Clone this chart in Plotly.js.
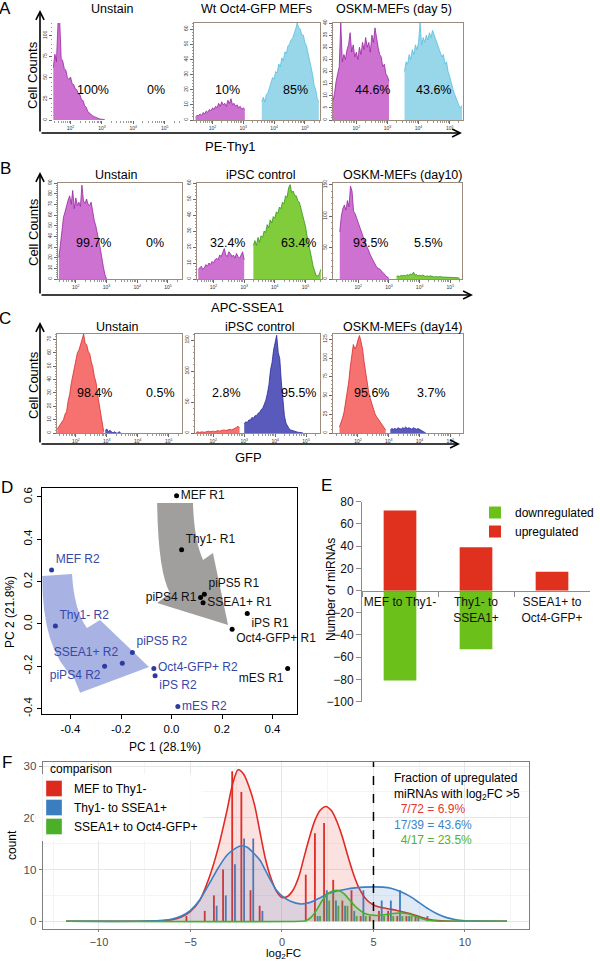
<!DOCTYPE html>
<html><head><meta charset="utf-8">
<script src="https://cdn.plot.ly/plotly-3.0.1.min.js"></script>
<style>html,body{margin:0;padding:0;background:#fff;}#chart{width:600px;height:961px;}</style>
</head><body><div id="chart"></div>
<script>
const W = 600, H = 961;
const FONT = 'Liberation Sans, Arial, Helvetica, sans-serif';

// ================= DATA =================
// ---- Panels A-C : flow cytometry histograms (x in log10 fluorescence, bin width 0.05) ----
const flowXLabels = ['PE-Thy1', 'APC-SSEA1', 'GFP'];
const flowTitles = [
  ['Unstain', 'Wt Oct4-GFP MEFs', 'OSKM-MEFs (day 5)'],
  ['Unstain', 'iPSC control', 'OSKM-MEFs (day10)'],
  ['Unstain', 'iPSC control', 'OSKM-MEFs (day14)']
];
const flowPct = [
  ['100%', '0%', '10%', '85%', '44.6%', '43.6%'],
  ['99.7%', '0%', '32.4%', '63.4%', '93.5%', '5.5%'],
  ['98.4%', '0.5%', '2.8%', '95.5%', '95.6%', '3.7%']
];
const binWidth = 0.05;

const A1_neg_start = 1.45;
const A1_neg = [62,78,69,116,121,73,70,61,59,50,48,51,43,42,37,36,31,30,24,23,17,15,10,8,6,5,4,3,2,2,1,1,0.5,0];
const A2_neg_start = 1.45;
const A2_neg = [2,3,3,4,3,5,4,6,5,7,6,8,7,9,8,11,9,12,10,11,9,13,11,14,10,11,9,10,8,9,7,8,7];
const A2_pos_start = 3.60;
const A2_pos = [12,15,12,17,18,22,24,28,27,32,31,37,35,41,39,45,44,49,50,53,54,58,60,64,61,60,56,56,51,49,44,41,34,30,23,20,14,12];
const A3_neg_start = 1.25;
const A3_neg = [8,11,16,19,22,40,24,27,25,29,31,36,28,31,26,28,25,30,27,32,29,34,30,32,28,35,32,38,33,30,27,26,22,23,19,18,16];
const A3_pos_start = 3.55;
const A3_pos = [20,24,23,27,25,29,27,31,29,32,40,31,34,32,35,33,36,34,37,35,33,31,29,28,26,27,23,24,20,18,15,13,11,9,8,6,5,6];

const B1_neg_start = 1.45;
const B1_neg = [20,35,50,58,63,70,74,78,70,83,66,76,69,72,68,88,73,71,75,70,69,72,63,55,50,44,36,28,18,11,4,0];
const B2_neg_start = 1.50;
const B2_neg = [6,7,8,6,7,9,8,10,9,11,10,12,13,12,15,14,17,19,15,14,17,16,14,15,13,16,14,13,15,17,12];
const B2_pos_start = 3.30;
const B2_pos = [21,24,21,26,23,27,26,30,29,34,32,37,35,39,38,42,41,45,44,48,47,52,51,57,59,54,55,52,52,49,48,44,42,36,33,27,23,17,13,8,4,2,2,3,6];
const B3_neg_start = 1.40;
const B3_neg = [75,100,112,118,110,125,115,148,140,108,104,97,88,82,74,67,62,55,50,43,38,33,28,22,19,17,16,13,11,8,5,3,1];
const B3_pos_start = 3.25;
const B3_pos = [4,5,4,6,5,6,5,7,6,8,7,11,6,7,5,6,5,6,5,4,5,4,5,4,4,3,4,3,4,3,3,3,3,2,3,2,2,2,2,2,2,1];

const C1_neg_start = 1.40;
const C1_neg = [3,5,6,9,10,14,16,24,29,37,43,50,54,60,62,66,69,74,67,66,61,59,53,49,42,38,29,22,13,6,1];
const C1_pos_start = 2.95;
const C1_pos = [2,3,1,2,1,0,1,0,0,1,0];
const C2_neg_start = 1.45;
const C2_neg = [1,2,1,2,2,1,2,2,3,2,3,3,2,3,4,3,4,4,5,4,5,5,6,5,6,7,9,11,8];
const C2_pos_start = 3.00;
const C2_pos = [15,18,17,21,21,25,24,28,28,32,33,38,40,47,53,64,78,102,114,134,148,158,130,120,83,48,28,16,10,7,5,4,3,2,2,1,1,1,0];
const C3_neg_start = 1.40;
const C3_neg = [8,13,20,28,40,55,68,88,103,118,112,116,124,130,122,112,95,80,64,54,46,38,30,26,22,19,16,14,11,8,4];
const C3_pos_start = 3.05;
const C3_pos = [4,6,5,6,5,7,6,5,7,6,8,6,7,6,5,7,6,5,6,5,4,3,2,0];

// ---- Panel D : PCA ----
const pcaR1_labels = ['MEF R1','Thy1- R1','piPS4 R1','piPS5 R1','SSEA1+ R1','iPS R1','Oct4-GFP+ R1','mES R1'];
const pcaR1_pc1 = [0.02, 0.04, 0.115, 0.13, 0.125, 0.30, 0.24, 0.46];
const pcaR1_pc2 = [0.605, 0.35, 0.125, 0.14, 0.10, 0.05, -0.025, -0.21];
const pcaR2_labels = ['MEF R2','Thy1- R2','piPS5 R2','SSEA1+ R2','piPS4 R2','Oct4-GFP+ R2','iPS R2','mES R2'];
const pcaR2_pc1 = [-0.475, -0.46, -0.155, -0.195, -0.265, -0.07, -0.065, 0.025];
const pcaR2_pc2 = [0.255, -0.01, -0.135, -0.185, -0.2, -0.21, -0.245, -0.39];

// ---- Panel E : number of miRNAs ----
const eCategories = ['MEF to Thy1-', 'Thy1- to<br>SSEA1+', 'SSEA1+ to<br>Oct4-GFP+'];
const eUp = [72, 39, 17];
const eDown = [-81, -53, 0];

// ---- Panel F : log2FC distributions ----
const fNames = ['MEF to Thy1-', 'Thy1- to SSEA1+', 'SSEA1+ to Oct4-GFP+'];
const fDensX_red = [-11.8,-8,-7,-6.5,-6,-5.5,-5,-4.5,-4,-3.5,-3,-2.7,-2.4,-2.1,-1.8,-1.5,-1.2,-0.9,-0.6,-0.3,0,0.3,0.6,0.9,1.2,1.5,1.8,2.1,2.4,2.7,3,3.3,3.6,3.9,4.2,4.5,4.8,5.1,5.5,6,6.5,7,7.5,8,8.5,9,10,12.3];
const fDensY_red = [0,0,0.02,0.1,0.3,0.8,1.9,4,8.2,14,21.5,26.5,29.3,28.5,26,22.5,17.2,12,8.3,5.8,4.6,4.8,6,8.4,12.3,16.2,19.5,21.5,22.2,21.4,19.3,16.3,12.6,9.2,6.5,4.7,3.6,3.0,2.6,2.3,1.9,1.5,0.9,0.4,0.15,0.05,0,0];
const fDensX_blue = [-11.8,-8,-7,-6.5,-6,-5.5,-5,-4.5,-4,-3.5,-3,-2.5,-2.2,-1.9,-1.5,-1.2,-0.9,-0.6,-0.3,0,0.5,1,1.5,2,2.5,3,3.5,4,4.5,5,5.5,6,6.5,7,7.5,8,8.5,9,9.5,10,10.5,12.3];
const fDensY_blue = [0,0,0.1,0.2,0.45,1.0,2.1,4.1,7.1,10.2,12.8,14.2,14.6,14.3,13,11.8,9.8,7.8,6,4.9,3.8,3.35,3.6,4.4,5.3,5.85,6.2,6.45,6.6,6.65,6.6,6.35,5.7,4.8,3.6,2.4,1.4,0.7,0.3,0.1,0.02,0];
const fDensX_green = [-11.8,1.0,1.3,1.6,1.9,2.2,2.5,2.8,3.1,3.4,3.7,4.0,4.3,4.6,5.0,5.4,5.8,6.2,6.5,6.8,7.1,7.4,7.7,8.0,8.4,9,12.3];
const fDensY_green = [0,0,0.1,0.8,2.2,4.0,5.3,5.9,5.95,5.3,4.1,2.9,2.0,1.4,1.15,1.15,1.35,1.55,1.6,1.5,1.2,0.8,0.45,0.2,0.05,0,0];
const fBinX_red = [-5.22,-4.22,-3.72,-3.22,-2.72,-2.22,-1.72,-1.22,1.3,1.8,2.3,2.8,3.3,3.8,4.3,4.8,5.3,5.8,6.3,6.8,7.3];
const fBinY_red = [1,2,5,10,29,25,6,3,9,17,19,8,4,6,1,1,2,2,1,1,1];
const fBinX_blue = [-3.57,-3.07,-2.57,-2.07,-1.57,-1.07,1.95,2.45,2.95,3.45,3.95,4.45,5.45,5.95,6.45,6.95,7.45,7.95];
const fBinY_blue = [3,5,11,16,16,2,1,6,4,3,2,6,4,4,6,1,1,1];
const fBinX_green = [2.08,2.58,3.08,3.58,4.08,4.58,5.58,6.08,6.58,7.08];
const fBinY_green = [1,4,3,3,1,1,1,1,1,1];
const fFracTitle = 'Fraction of upregulated<br>miRNAs with log<sub>2</sub>FC &gt;5';
const fFracText = ['7/72 = 6.9%', '17/39 = 43.6%', '4/17 = 23.5%'];

// ================= STYLE / GEOMETRY =================
const px = x => x / W, py = y => 1 - y / H;
const ref = n => (n === 1 ? '' : String(n));
const COL = {
  mag:   {fill: 'rgb(206,114,210)', line: 'rgb(150,38,160)'},
  cyan:  {fill: 'rgb(152,214,234)', line: 'rgb(84,192,222)'},
  green: {fill: 'rgb(128,204,58)',  line: 'rgb(50,150,30)'},
  red:   {fill: 'rgb(246,114,112)', line: 'rgb(214,44,40)'},
  blue:  {fill: 'rgb(90,90,188)',   line: 'rgb(40,40,160)'}
};
const flowPops = [
  [[[A1_neg_start, A1_neg, 'mag']], [[A2_neg_start, A2_neg, 'mag'], [A2_pos_start, A2_pos, 'cyan']], [[A3_neg_start, A3_neg, 'mag'], [A3_pos_start, A3_pos, 'cyan']]],
  [[[B1_neg_start, B1_neg, 'mag']], [[B2_neg_start, B2_neg, 'mag'], [B2_pos_start, B2_pos, 'green']], [[B3_neg_start, B3_neg, 'mag'], [B3_pos_start, B3_pos, 'green']]],
  [[[C1_neg_start, C1_neg, 'red'], [C1_pos_start, C1_pos, 'blue']], [[C2_neg_start, C2_neg, 'red'], [C2_pos_start, C2_pos, 'blue']], [[C3_neg_start, C3_neg, 'red'], [C3_pos_start, C3_pos, 'blue']]]
];
const flowBoxes = [ // left, right, top, bottom (px)
  [[53,180,23,120],[194,320,23,120],[333,463,23,120]],
  [[58,182,183,279],[197,322,183,279],[333,462,183,279]],
  [[57,182,334,433],[195,320,334,433],[333,463,334,433]]
];
const flowXRange = [[[1.44,5.49],[1.40,5.49],[1.25,5.43]],[[1.42,5.46],[1.46,5.54],[1.18,5.38]],[[1.39,5.43],[1.41,5.45],[1.19,5.41]]];
const flowYMax = [[115,64,40],[90,60,153],[74,160,132]];
const flowYDtick = [[25,10,5],[10,10,50],[10,50,25]];
const flowTitleX = [[112,256,394],[116,260,402],[117,259,402]];
const flowTitleY = [9,175,327];
const flowPctX = [[93,156,227,295,372,433],[93,155,227,298,370,428],[94,160,226,298,371,431]];
const flowPctY = [90,243,393];
const flowArrowX = 40, flowArrowTop = [10,172,322], flowArrowY = [133,295,444], flowArrowEnd = [462,473,460];
const flowCellY = [75,232,385];
const flowXLabelPos = [[230,147],[247,307],[248,457]];
const letterPos = [['A',5,9],['B',5,168],['C',5,318],['D',7,487],['E',326,485],['F',7,762]];

const traces = [], annotations = [], shapes = [];
const layout = {
  width: W, height: H, margin: {l:0, r:0, t:0, b:0},
  paper_bgcolor: '#fff', plot_bgcolor: '#fff',
  font: {family: FONT, color: '#000', size: 12},
  barmode: 'overlay', showlegend: true, hovermode: false,
  annotations, shapes,
  legend: {x: px(475), y: py(498), xanchor: 'left', yanchor: 'top', bgcolor: 'rgba(0,0,0,0)',
           font: {size: 12}, itemwidth: 30, tracegroupgap: 0},
  legend2: {x: px(34), y: py(774), xanchor: 'left', yanchor: 'top', bgcolor: 'rgba(255,255,255,0.9)',
            font: {size: 12}, itemwidth: 30, tracegroupgap: 0}
};
function setAx(n, xa, ya) { layout['xaxis' + ref(n)] = xa; layout['yaxis' + ref(n)] = ya; }
function ann(text, x, y, opts) {
  annotations.push(Object.assign({text, x: px(x), y: py(y), xref: 'paper', yref: 'paper', xanchor: 'center', yanchor: 'middle',
    showarrow: false, font: {size: 12}}, opts || {}));
}
function arrowAnn(x, y, ax, ay) {
  annotations.push({text: '', x: px(x), y: py(y), xref: 'paper', yref: 'paper', showarrow: true, ax, ay,
    arrowhead: 5, arrowsize: 1, arrowwidth: 1.6, arrowcolor: '#000', standoff: 0, startstandoff: 0});
}

// ---------- A-C ----------
const minorLog = [];
for (let d = 1; d <= 5; d++) for (let k = 2; k <= 9; k++) minorLog.push(d + Math.log10(k));
for (let r = 0; r < 3; r++) {
  for (let c = 0; c < 3; c++) {
    const n = r * 3 + c + 1, b = flowBoxes[r][c];
    const frame = !(r === 0 && c === 0);
    setAx(n, {
      domain: [px(b[0]), px(b[1])], anchor: 'y' + ref(n), range: flowXRange[r][c],
      tickmode: 'array', tickvals: [2,3,4,5], ticktext: ['10<sup>2</sup>','10<sup>3</sup>','10<sup>4</sup>','10<sup>5</sup>'],
      tickfont: {size: 5, color: '#333'}, ticks: 'outside', ticklen: 3, tickwidth: 0.8, tickcolor: '#444',
      showline: frame, mirror: frame, linecolor: '#9b8b7f', linewidth: 1, showgrid: false, zeroline: false,
      minor: {tickmode: 'array', tickvals: minorLog, ticks: 'outside', ticklen: 2, tickwidth: 0.6, tickcolor: '#555'}
    }, {
      domain: [py(b[3]), py(b[2])], anchor: 'x' + ref(n), range: [0, flowYMax[r][c]], dtick: flowYDtick[r][c],
      tickfont: {size: 5, color: '#333'}, tickangle: -90, ticks: 'outside', ticklen: 3, tickwidth: 0.8, tickcolor: '#444',
      showline: frame, mirror: frame, linecolor: '#9b8b7f', linewidth: 1, showgrid: false, zeroline: false,
      minor: {dtick: flowYDtick[r][c] / 5, ticks: 'outside', ticklen: 1.5, tickwidth: 0.6, tickcolor: '#555'}
    });
    flowPops[r][c].forEach(p => {
      const col = COL[p[2]];
      traces.push({type: 'scatter', mode: 'lines', x0: p[0], dx: binWidth, y: p[1],
        xaxis: 'x' + ref(n), yaxis: 'y' + ref(n), fill: 'tozeroy', fillcolor: col.fill,
        line: {color: col.line, width: 0.8}, showlegend: false, hoverinfo: 'skip'});
    });
    ann(flowTitles[r][c], flowTitleX[r][c], flowTitleY[r], {font: {size: 12.5}});
    ann(flowPct[r][2 * c], flowPctX[r][2 * c], flowPctY[r], {font: {size: 12.5}});
    ann(flowPct[r][2 * c + 1], flowPctX[r][2 * c + 1], flowPctY[r], {font: {size: 12.5}});
  }
  arrowAnn(flowArrowX, flowArrowTop[r], 0, flowArrowY[r] - flowArrowTop[r]);
  arrowAnn(flowArrowEnd[r], flowArrowY[r], -(flowArrowEnd[r] - flowArrowX), 0);
  ann('Cell Counts', 33, flowCellY[r], {textangle: -90, font: {size: 13}});
  ann(flowXLabels[r], flowXLabelPos[r][0], flowXLabelPos[r][1], {font: {size: 13}});
}
letterPos.forEach(l => ann(l[0], l[1], l[2], {font: {size: 17}}));

// ---------- D : PCA ----------
const pcaR1_textpos = ['middle right','top right','middle left','top right','middle right','bottom right','bottom right','bottom left'];
const pcaR2_textpos = ['top right','top right','top right','top left','bottom left','middle right','bottom right','middle right'];
const grayArrow = {TL:[-0.057,0.571], TR:[0.085,0.571], cR:[0.089,0.396], nR:[0.125,0.302], wR:[0.164,0.335], tip:[0.224,-0.005], wL:[-0.057,0.099], nL:[-0.006,0.146], cL:[-0.053,0.245]};
const blueArrow = {TL:[-0.512,0.226], TR:[-0.394,0.236], cR:[-0.386,0.066], nR:[-0.335,-0.019], wR:[-0.283,0.019], tip:[-0.089,-0.203], wL:[-0.362,-0.325], nL:[-0.386,-0.255], cL:[-0.513,-0.123]};
function arrowPath(a) {
  const p = v => v[0] + ',' + v[1];
  return `M${p(a.TL)} L${p(a.TR)} Q${p(a.cR)} ${p(a.nR)} L${p(a.wR)} L${p(a.tip)} L${p(a.wL)} L${p(a.nL)} Q${p(a.cL)} ${p(a.TL)} Z`;
}
shapes.push({type: 'path', xref: 'x10', yref: 'y10', path: arrowPath(grayArrow), fillcolor: '#a19e9e', line: {width: 0}, layer: 'below'});
shapes.push({type: 'path', xref: 'x10', yref: 'y10', path: arrowPath(blueArrow), fillcolor: '#a9b3e3', line: {width: 0}, layer: 'below'});
const dTicks = [-0.4,-0.2,0,0.2,0.4,0.6], dTickText = ['-0.4','-0.2','0.0','0.2','0.4','0.6'];
setAx(10, {
  domain: [px(42), px(297)], anchor: 'y10', range: [-0.513, 0.497], tickmode: 'array',
  tickvals: dTicks.slice(0,5), ticktext: dTickText.slice(0,5), ticks: 'outside', ticklen: 4, tickcolor: '#000',
  showline: true, mirror: true, linecolor: '#000', linewidth: 1, zeroline: false, showgrid: false, tickfont: {size: 11.5}
}, {
  domain: [py(714), py(488)], anchor: 'x10', range: [-0.425, 0.642], tickmode: 'array',
  tickvals: dTicks, ticktext: dTickText, tickangle: -90, ticks: 'outside', ticklen: 4, tickcolor: '#000',
  showline: true, mirror: true, linecolor: '#000', linewidth: 1, zeroline: false, showgrid: false, tickfont: {size: 11.5}
});
traces.push({type: 'scatter', mode: 'markers+text', x: pcaR1_pc1, y: pcaR1_pc2, text: pcaR1_labels, textposition: pcaR1_textpos,
  xaxis: 'x10', yaxis: 'y10', marker: {size: 5, color: '#000'}, textfont: {size: 12, color: '#111'}, cliponaxis: false, showlegend: false});
traces.push({type: 'scatter', mode: 'markers+text', x: pcaR2_pc1, y: pcaR2_pc2, text: pcaR2_labels, textposition: pcaR2_textpos,
  xaxis: 'x10', yaxis: 'y10', marker: {size: 5, color: '#2c3c9e'}, textfont: {size: 12, color: '#3747aa'}, cliponaxis: false, showlegend: false});
ann('PC 1 (28.1%)', 165, 747, {font: {size: 12}});
ann('PC 2 (21.8%)', 10, 612, {textangle: -90, font: {size: 12}});

// ---------- E : bar chart ----------
setAx(11, {
  domain: [px(362), px(590)], type: 'category', anchor: 'free', position: py(590.5), range: [-0.5, 2.5],
  showline: true, linecolor: '#8c8c8c', ticks: 'outside', tickson: 'boundaries', ticklen: 5, tickcolor: '#8c8c8c',
  tickangle: 0, tickfont: {size: 12, color: '#111'}, showgrid: false, zeroline: false
}, {
  domain: [py(701.5), py(501.7)], anchor: 'x11', range: [-100, 80], dtick: 20, ticks: 'outside', ticklen: 5,
  tickcolor: '#8c8c8c', showline: true, linecolor: '#8c8c8c', tickfont: {size: 12, color: '#111'}, showgrid: false, zeroline: false
});
traces.push({type: 'bar', name: 'downregulated', x: eCategories, y: eDown, xaxis: 'x11', yaxis: 'y11', width: 0.43,
  marker: {color: '#6cc01a', line: {width: 0}}, legend: 'legend'});
traces.push({type: 'bar', name: 'upregulated', x: eCategories, y: eUp, xaxis: 'x11', yaxis: 'y11', width: 0.43,
  marker: {color: '#e0301e', line: {width: 0}}, legend: 'legend'});
ann('Number of miRNAs', 331, 590, {textangle: -90, font: {size: 12}});

// ---------- F : density ----------
setAx(12, {
  domain: [px(43), px(529)], anchor: 'y12', range: [-13.06, 13.5], tickvals: [-10,-5,0,5,10],
  ticks: 'outside', ticklen: 2, tickcolor: '#7f7f7f', tickfont: {size: 11, color: '#4d4d4d'},
  showline: true, mirror: true, linecolor: '#7f7f7f', linewidth: 1.3, showgrid: true, gridcolor: '#e6e6e6', zeroline: false,
  minor: {dtick: 2.5, showgrid: true, gridcolor: '#f4f4f4'}
}, {
  domain: [py(929), py(762)], anchor: 'x12', range: [-1.5, 30.8], tickvals: [0,10,20,30],
  ticks: 'outside', ticklen: 3, tickcolor: '#7f7f7f', tickfont: {size: 11.5, color: '#4d4d4d'},
  showline: true, mirror: true, linecolor: '#7f7f7f', linewidth: 1.3, showgrid: true, gridcolor: '#e6e6e6', zeroline: false,
  minor: {dtick: 5, showgrid: true, gridcolor: '#f4f4f4'}
});
const fCol = [{line: '#e02b24', fill: 'rgba(240,80,80,0.17)', bar: '#dd2a1f', txt: '#e8352b'},
              {line: '#3b80c5', fill: 'rgba(70,130,200,0.17)', bar: '#3a7ebf', txt: '#3d86c6'},
              {line: '#45b02c', fill: 'rgba(80,180,40,0.17)', bar: '#4caf2a', txt: '#4cb52d'}];
const fBins = [[fBinX_red, fBinY_red], [fBinX_blue, fBinY_blue], [fBinX_green, fBinY_green]];
const fDens = [[fDensX_red, fDensY_red], [fDensX_blue, fDensY_blue], [fDensX_green, fDensY_green]];
fBins.forEach((b, i) => traces.push({type: 'bar', name: fNames[i], x: b[0], y: b[1], width: 0.1, xaxis: 'x12', yaxis: 'y12',
  marker: {color: fCol[i].bar, line: {width: 0}}, showlegend: false}));
fDens.forEach((d, i) => traces.push({type: 'scatter', mode: 'lines', x: d[0], y: d[1], xaxis: 'x12', yaxis: 'y12',
  fill: 'tozeroy', fillcolor: fCol[i].fill, line: {color: fCol[i].line, width: 1.6, shape: 'spline', smoothing: 0.8}, showlegend: false}));
// legend keys for the "comparison" legend (legend entries only)
fNames.forEach((nm, i) => traces.push({type: 'scatter', mode: 'markers', x: [null], y: [null], xaxis: 'x12', yaxis: 'y12', name: nm,
  marker: {symbol: 'square', size: 16, color: fCol[i].bar, line: {color: 'rgba(255,255,255,0.6)', width: 0.6}}, legend: 'legend2'}));
shapes.push({type: 'line', xref: 'x12', yref: 'y12 domain', x0: 5, x1: 5, y0: 0, y1: 1, line: {color: '#000', width: 1.5, dash: 'dash'}});
ann('comparison', 48, 769, {xanchor: 'left', font: {size: 12}});
const fFracAll = fFracTitle +
  '<br><span style="color:' + fCol[0].txt + '">&nbsp;&nbsp;' + fFracText[0] + '</span>' +
  '<br><span style="color:' + fCol[1].txt + '">' + fFracText[1] + '</span>' +
  '<br><span style="color:' + fCol[2].txt + '">&nbsp;&nbsp;' + fFracText[2] + '</span>';
ann(fFracAll, 392, 769, {xanchor: 'left', yanchor: 'top', align: 'left', font: {size: 12}});
ann('count', 12, 845, {textangle: -90, font: {size: 12}});
ann('log<sub>2</sub>FC', 283, 953.5, {font: {size: 11.5}});

Plotly.newPlot('chart', traces, layout, {staticPlot: true, displayModeBar: false});
</script>
</body></html>
